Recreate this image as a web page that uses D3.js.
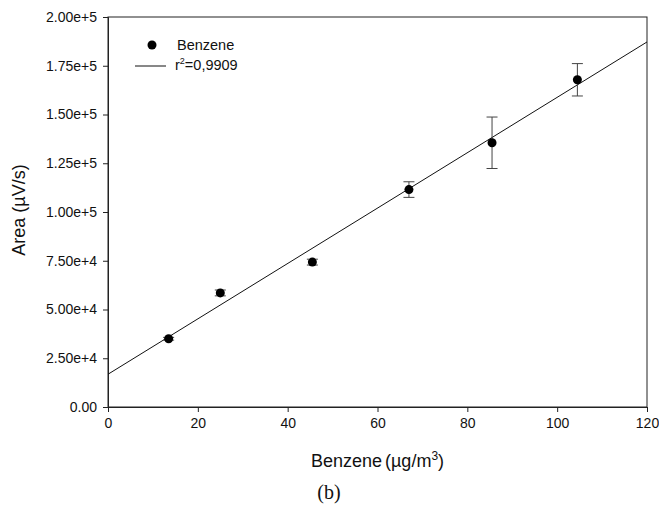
<!DOCTYPE html>
<html><head><meta charset="utf-8">
<script src="https://cdn.jsdelivr.net/npm/d3@7"></script>
<style>body{margin:0;background:#fff}</style>
</head><body>
<svg id="c" width="659" height="508"></svg>
<script>
const xVals = [13.5, 25, 45.5, 67, 85.5, 104.5];
const yVals = [35000, 58500, 74300, 111500, 135500, 167800];
const yErr = [700, 1500, 1500, 4000, 13200, 8300];
const fitIntercept = 16800;
const fitSlope = 1420;
const xTicks = [0, 20, 40, 60, 80, 100, 120];
const yTicks = [0, 25000, 50000, 75000, 100000, 125000, 150000, 175000, 200000];
const yTickLabels = ["0.00","2.50e+4","5.00e+4","7.50e+4","1.00e+5","1.25e+5","1.50e+5","1.75e+5","2.00e+5"];

const svg = d3.select("#c");
const L = 108, R = 647, T = 17, B = 407;
const x = d3.scaleLinear().domain([0,120]).range([L,R]);
const y = d3.scaleLinear().domain([0,200000]).range([B,T]);
const font = "'Liberation Sans', Arial, sans-serif";

// frame
svg.append("rect").attr("x",L).attr("y",T).attr("width",R-L).attr("height",B-T)
  .attr("fill","none").attr("stroke","#222").attr("stroke-width",1);

const xa = svg.append("g").attr("transform",`translate(0,${B})`)
  .call(d3.axisBottom(x).tickValues(xTicks).tickSize(5).tickPadding(6).tickFormat(d3.format("d")));
const ya = svg.append("g").attr("transform",`translate(${L},0)`)
  .call(d3.axisLeft(y).tickValues(yTicks).tickSize(5).tickPadding(6).tickFormat((d,i)=>yTickLabels[i]));
[xa,ya].forEach(a=>{
  a.select(".domain").attr("stroke","#222");
  a.selectAll(".tick line").attr("stroke","#222");
  a.selectAll("text").attr("font-family",font).attr("font-size",14).attr("fill","#111");
});

// fit line
svg.append("line").attr("x1",x(0)).attr("y1",y(fitIntercept))
  .attr("x2",x(120)).attr("y2",y(fitIntercept+fitSlope*120))
  .attr("stroke","#111").attr("stroke-width",1);

// error bars
const data = xVals.map((v,i)=>({x:v,y:yVals[i],e:yErr[i]}));
const eb = svg.append("g").attr("stroke","#444").attr("stroke-width",1);
data.forEach(d=>{
  eb.append("line").attr("x1",x(d.x)).attr("x2",x(d.x)).attr("y1",y(d.y-d.e)).attr("y2",y(d.y+d.e));
  [d.y-d.e,d.y+d.e].forEach(v=>eb.append("line").attr("x1",x(d.x)-5.5).attr("x2",x(d.x)+5.5).attr("y1",y(v)).attr("y2",y(v)));
});
svg.append("g").selectAll("circle").data(data).join("circle")
  .attr("cx",d=>x(d.x)).attr("cy",d=>y(d.y)).attr("r",4.5).attr("fill","#000");

// legend
svg.append("circle").attr("cx",152).attr("cy",45).attr("r",4.5).attr("fill","#000");
svg.append("text").attr("x",177).attr("y",50).attr("font-family",font).attr("font-size",14.5).attr("fill","#111").text("Benzene");
svg.append("line").attr("x1",135).attr("x2",166).attr("y1",66).attr("y2",66).attr("stroke","#111");
const rt = svg.append("text").attr("x",175).attr("y",70).attr("font-family",font).attr("font-size",14.5).attr("fill","#111");
rt.append("tspan").text("r");
rt.append("tspan").attr("dy",-6).attr("font-size",9).text("2");
rt.append("tspan").attr("dy",6).text("=0,9909");

// axis titles
const xt = svg.append("text").attr("x",377.5).attr("y",467).attr("text-anchor","middle")
  .attr("font-family",font).attr("font-size",18).attr("fill","#111");
xt.append("tspan").text("Benzene");
xt.append("tspan").attr("dx",3).text("(µg/m");
xt.append("tspan").attr("dy",-7).attr("font-size",12).text("3");
xt.append("tspan").attr("dy",7).text(")");

svg.append("text").attr("transform","translate(25,210) rotate(-90)").attr("text-anchor","middle")
  .attr("font-family",font).attr("font-size",18).attr("fill","#111").text("Area (µV/s)");

svg.append("text").attr("x",329).attr("y",499).attr("text-anchor","middle")
  .attr("font-family","'Liberation Serif', 'Times New Roman', serif").attr("font-size",20).attr("fill","#111").text("(b)");
</script>
</body></html>
